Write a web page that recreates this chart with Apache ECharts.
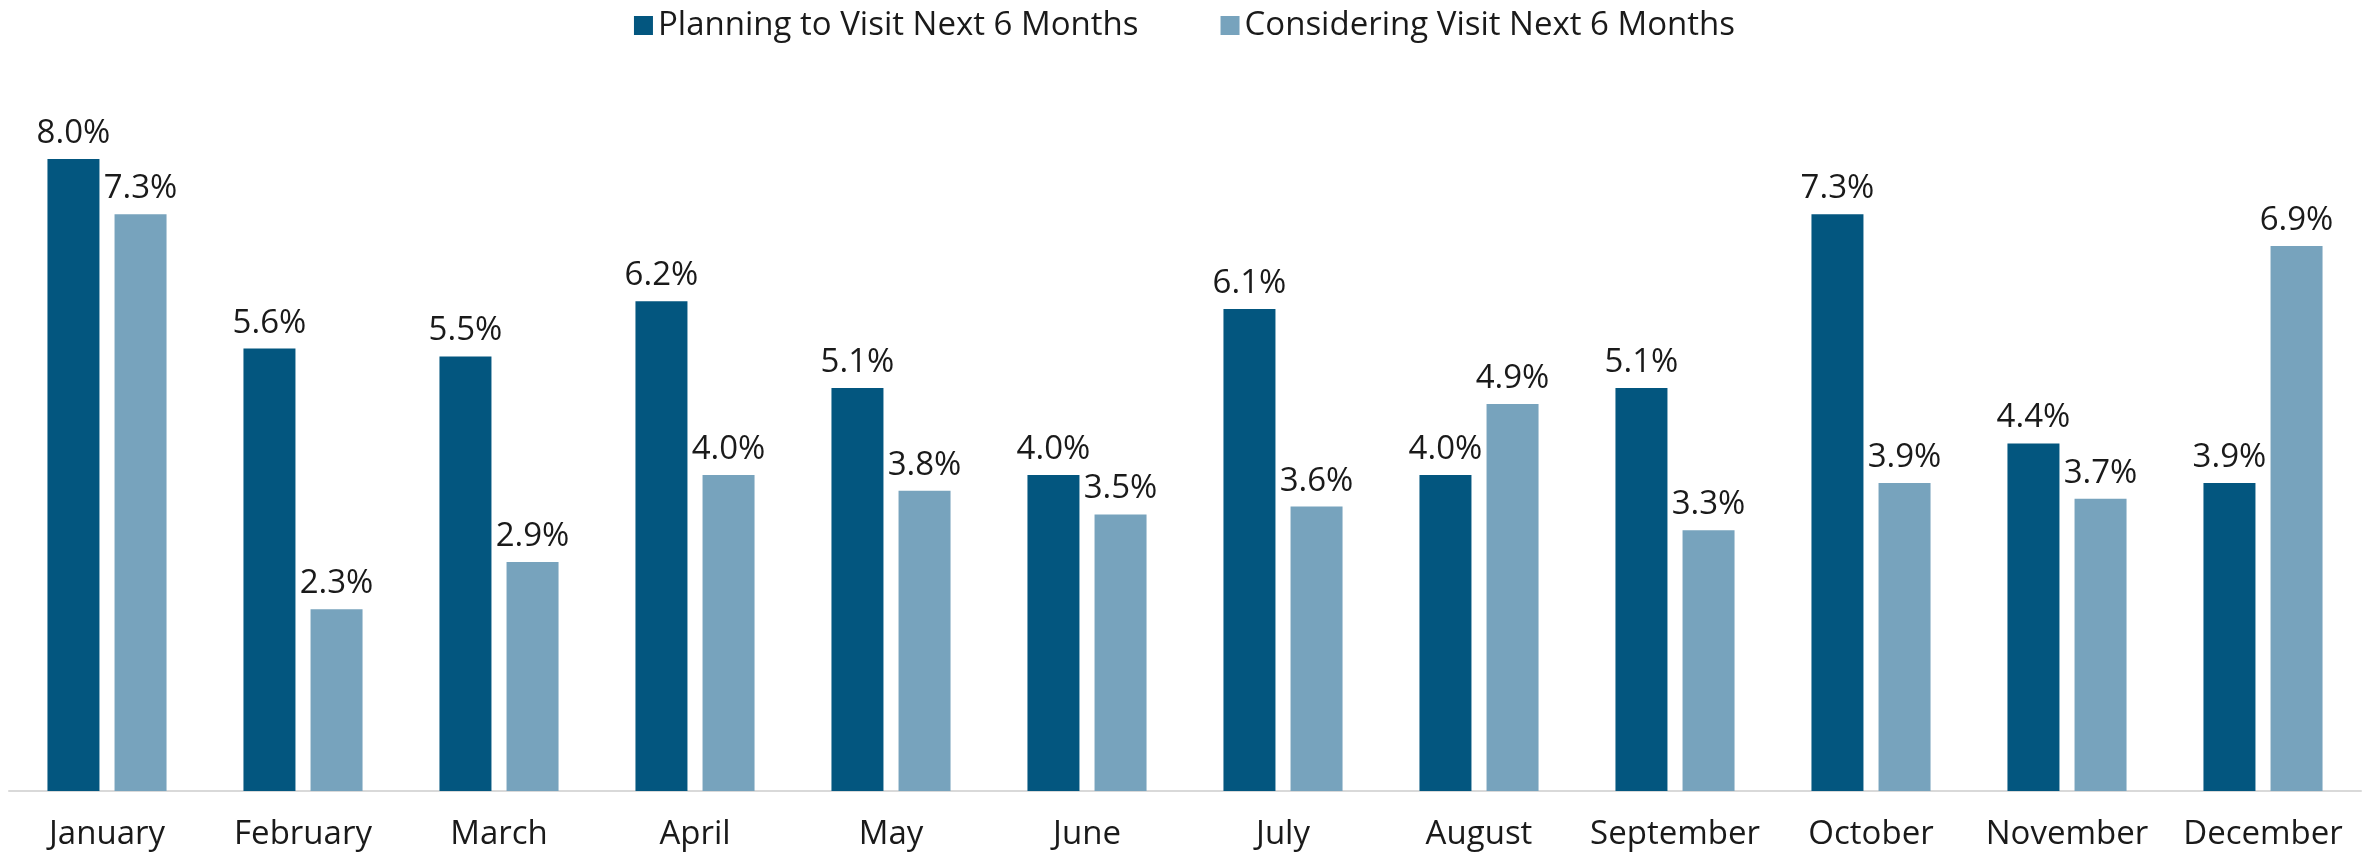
<!DOCTYPE html>
<html>
<head>
<meta charset="utf-8">
<script src="https://cdn.jsdelivr.net/npm/echarts@6/dist/echarts.min.js"></script>
<style>
html,body{margin:0;padding:0;background:#fff;}
#chart{width:2369px;height:854px;}
</style>
</head>
<body>
<div id="chart"></div>
<script>
const months = ["January","February","March","April","May","June","July","August","September","October","November","December"];
const planning = [8.0,5.6,5.5,6.2,5.1,4.0,6.1,4.0,5.1,7.3,4.4,3.9];
const considering = [7.3,2.3,2.9,4.0,3.8,3.5,3.6,4.9,3.3,3.9,3.7,6.9];
const seriesNames = ["Planning to Visit Next 6 Months","Considering Visit Next 6 Months"];

const FONT = "Open Sans";
const chart = echarts.init(document.getElementById('chart'), null, {renderer:'canvas'});
const labelCfg = {
  show:true, position:'top', distance:9,
  color:'#1a1a1a', fontFamily:FONT, fontSize:33,
  formatter: p => p.value.toFixed(1) + '%'
};
chart.setOption({
  animation:false,
  backgroundColor:'#ffffff',
  legend:{
    top:4, left:'center',
    itemWidth:19, itemHeight:19, itemGap:82,
    icon:'rect',
    textStyle:{fontFamily:FONT, fontSize:33, color:'#1a1a1a', padding:[0,0,0,0]},
    data:seriesNames
  },
  grid:{left:9, right:8, top:159, bottom:63, containLabel:false},
  xAxis:{
    type:'category', data:months,
    axisLine:{show:true, lineStyle:{color:'#d9d9d9', width:2}},
    axisTick:{show:false},
    axisLabel:{color:'#1a1a1a', fontFamily:FONT, fontSize:33, margin:27, interval:0}
  },
  yAxis:{type:'value', min:0, max:8, show:false, splitLine:{show:false}},
  series:[
    {name:seriesNames[0], type:'bar', data:planning, barWidth:52, barGap:'29%',
     itemStyle:{color:'#03567f'}, label:labelCfg},
    {name:seriesNames[1], type:'bar', data:considering, barWidth:52,
     itemStyle:{color:'#77a3bd'}, label:labelCfg}
  ]
});
</script>
</body>
</html>
